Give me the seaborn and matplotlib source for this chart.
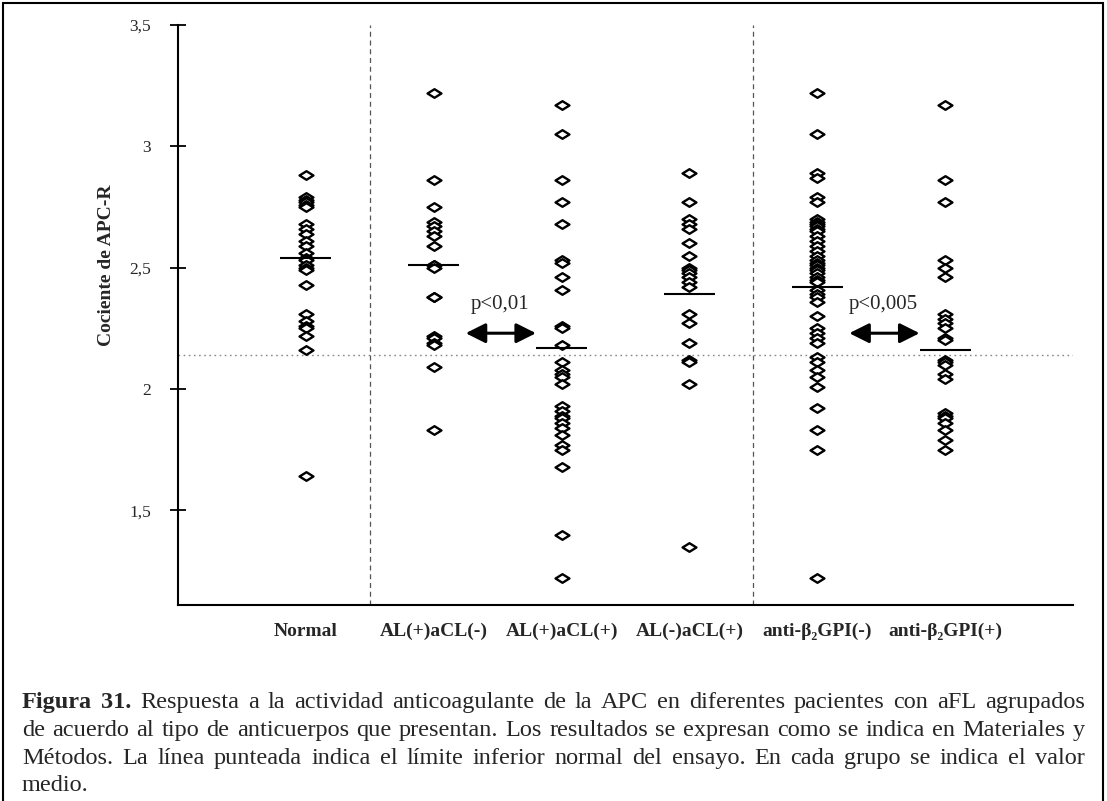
import numpy as np
import pandas as pd
import matplotlib
matplotlib.use('Agg')
import matplotlib.pyplot as plt
from matplotlib.path import Path
from matplotlib.patches import Rectangle
import seaborn as sns

# groups and values (cociente APC-R)
groups = ['Normal', 'AL(+)aCL(-)', 'AL(+)aCL(+)', 'AL(-)aCL(+)', 'anti-β₂GPI(-)', 'anti-β₂GPI(+)']

normal = [2.88, 2.79, 2.78, 2.77, 2.76, 2.75, 2.68, 2.66, 2.64, 2.61, 2.59, 2.56, 2.54,
          2.53, 2.51, 2.50, 2.49, 2.43, 2.31, 2.28, 2.26, 2.25, 2.22, 2.16, 1.64]
al_pos_acl_neg = [3.22, 2.86, 2.75, 2.69, 2.67, 2.65, 2.63, 2.59, 2.51, 2.51, 2.50, 2.38,
                  2.38, 2.22, 2.21, 2.19, 2.18, 2.09, 1.83]
al_pos_acl_pos = [3.17, 3.05, 2.86, 2.77, 2.68, 2.53, 2.52, 2.46, 2.41, 2.26, 2.25, 2.18,
                  2.11, 2.08, 2.06, 2.05, 2.02, 1.93, 1.91, 1.89, 1.88, 1.86, 1.84, 1.81,
                  1.77, 1.75, 1.68, 1.40, 1.22]
al_neg_acl_pos = [2.89, 2.77, 2.70, 2.68, 2.66, 2.60, 2.55, 2.50, 2.49, 2.48, 2.46, 2.44,
                  2.42, 2.31, 2.27, 2.19, 2.12, 2.11, 2.02, 1.35]
b2gpi_neg = [3.22, 3.05, 2.89, 2.87, 2.79, 2.77, 2.70, 2.69, 2.68, 2.67, 2.66, 2.65, 2.63,
             2.61, 2.59, 2.57, 2.55, 2.53, 2.52, 2.51, 2.50, 2.49, 2.48, 2.46, 2.45, 2.44,
             2.41, 2.39, 2.38, 2.36, 2.30, 2.25, 2.23, 2.21, 2.19, 2.13, 2.11, 2.08, 2.05,
             2.01, 1.92, 1.83, 1.75, 1.22]
b2gpi_pos = [3.17, 2.86, 2.77, 2.53, 2.50, 2.46, 2.31, 2.29, 2.27, 2.25, 2.21, 2.20, 2.12,
             2.11, 2.10, 2.06, 2.04, 1.90, 1.89, 1.88, 1.86, 1.83, 1.79, 1.75]

means = [2.54, 2.51, 2.17, 2.39, 2.42, 2.16]
lower_limit = 2.14

y_ticks = [1.5, 2, 2.5, 3, 3.5]
y_tick_labels = ['1,5', '2', '2,5', '3', '3,5']

comparisons = [(1, 2, 'p<0,01'), (4, 5, 'p<0,005')]

caption_lines = [
    'Figura 31. Respuesta a la actividad anticoagulante de la APC en diferentes pacientes con aFL agrupados',
    'de acuerdo al tipo de anticuerpos que presentan. Los resultados se expresan como se indica en Materiales y',
    'Métodos. La línea punteada indica el límite inferior normal del ensayo. En cada grupo se indica el valor',
    'medio.',
]

series = [normal, al_pos_acl_neg, al_pos_acl_pos, al_neg_acl_pos, b2gpi_neg, b2gpi_pos]
df = pd.DataFrame({
    'grupo': np.repeat(groups, [len(s) for s in series]),
    'valor': np.concatenate(series),
})

sns.set_style('white')
plt.rcParams['font.family'] = ['Liberation Serif', 'DejaVu Serif']

W, H = 1107, 801
fig = plt.figure(figsize=(W / 100, H / 100), dpi=100)
ax = fig.add_axes([178 / W, 1 - 605 / H, (1073 - 178) / W, (605 - 25) / H])

# flattened open diamond like the original
diamond = Path([(-1, 0), (0, 0.62), (1, 0), (0, -0.62), (-1, 0)],
               [Path.MOVETO, Path.LINETO, Path.LINETO, Path.LINETO, Path.CLOSEPOLY])

sns.stripplot(data=df, x='grupo', y='valor', order=groups, jitter=False,
              marker=diamond, size=10, color='white', edgecolor='black',
              linewidth=1.7, ax=ax, zorder=3)

pos = np.arange(len(groups))
ax.hlines(means, pos - 0.2, pos + 0.2, color='black', lw=1.5, zorder=4)

ax.axhline(lower_limit, color='#888888', lw=1.0, ls=(0, (1.2, 2.5)), zorder=1)
for xv in [0.5, 3.5]:
    ax.axvline(xv, color='#555555', lw=0.9, ls=(0, (4, 3)), zorder=1)

for a, b, label in comparisons:
    ax.annotate('', xy=(b - 0.2, 2.23), xytext=(a + 0.25, 2.23),
                arrowprops=dict(arrowstyle='<|-|>', color='black', lw=2.2,
                                mutation_scale=30, shrinkA=0, shrinkB=0))
    ax.text((a + b) / 2 + 0.02, 2.35, label, ha='center', va='center', fontsize=15)

ax.set_xlim(-1, 6)
ax.set_ylim(1.11, 3.5)
ax.set_yticks(y_ticks)
ax.set_yticklabels(y_tick_labels, fontsize=12.5)
ax.tick_params(axis='y', left=True, direction='inout', length=11, width=1.3,
               color='black', pad=14)
ax.tick_params(axis='x', bottom=False, length=0, pad=13)
for t in ax.get_xticklabels():
    t.set_fontweight('bold')
    t.set_fontsize(14)
ax.set_xlabel('')
ax.set_ylabel('Cociente de APC-R', fontsize=14, fontweight='bold')
ax.yaxis.set_label_coords(-0.07, 0.585)

sns.despine(ax=ax)
for s in ['left', 'bottom']:
    ax.spines[s].set_linewidth(1.5)
    ax.spines[s].set_color('black')

# outer frame of the figure panel
fig.patches.append(Rectangle((3 / W, -0.01), 1 - 7 / W, 1.006, transform=fig.transFigure,
                             fill=False, edgecolor='black', lw=1.5))

# justified caption
fig.canvas.draw()
renderer = fig.canvas.get_renderer()
x0, x1 = 22, 1085
baselines = [708, 736, 764, 791]
for i, (line, yb) in enumerate(zip(caption_lines, baselines)):
    words = line.split(' ')
    yf = 1 - yb / H
    texts = []
    for j, w in enumerate(words):
        bold = i == 0 and j < 2
        texts.append(fig.text(0, yf, w, fontsize=17.5, va='baseline',
                              fontweight='bold' if bold else 'normal'))
    widths = [t.get_window_extent(renderer).width for t in texts]
    if i < len(caption_lines) - 1 and len(words) > 1:
        gap = ((x1 - x0) - sum(widths)) / (len(words) - 1)
    else:
        gap = 5
    x = x0
    for t, w in zip(texts, widths):
        t.set_x(x / W)
        x += w + gap

fig.savefig('out.png', dpi=100)
